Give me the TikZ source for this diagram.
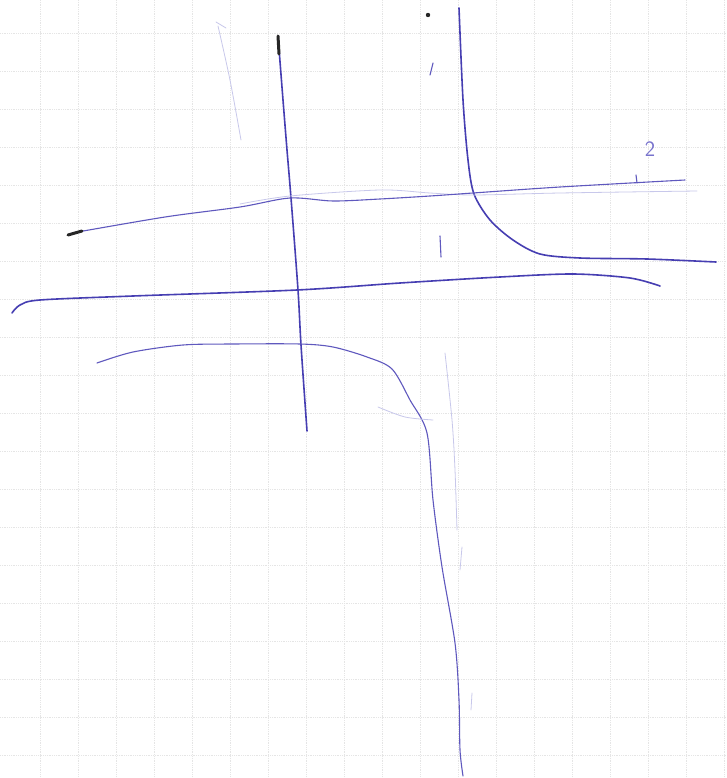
\documentclass[tikz,border=0pt]{standalone}
\usetikzlibrary{positioning}

\begin{document}
\begin{tikzpicture}[x=1pt, y=-1pt,
    gridline/.style={gray!20, densely dotted, line width=0.8pt},
    pen/.style={line width=1.6pt, color={rgb,255:red,70;green,62;blue,178}, line cap=round, line join=round},
    thinpen/.style={line width=1.1pt, color={rgb,255:red,95;green,88;blue,190}, line cap=round},
    ghost/.style={line width=0.8pt, color={rgb,255:red,200;green,200;blue,235}, line cap=round},
    blob/.style={line width=3pt, black!85, line cap=round},
    handlabel/.style={font=\sffamily\fontsize{22}{22}\selectfont, color={rgb,255:red,120;green,115;blue,205}}]
\useasboundingbox (0,0) rectangle (726,778);
\fill[white] (0,0) rectangle (726,778);
% grid paper
\foreach \x in {40,78,...,724} {
    \draw[gridline] (\x,0) -- (\x,778);
}
\foreach \y in {33,71,...,760} {
    \draw[gridline] (0,\y) -- (726,\y);
}
% left vertical stroke
\draw[pen] plot[smooth] coordinates {(278,36) (283,100) (287,150) (291,198) (298,290) (301,345) (307,431)};
\draw[blob] (278,36) -- (279,54);
% right vertical stroke bending to the right
\draw[pen] plot[smooth] coordinates {(459,8) (463,100) (468,160) (474,194) (490,220) (513,240) (540,254) (580,258) (647,259) (716,262)};
% upper thin line (two strokes)
\draw[ghost] plot[smooth] coordinates {(240,204) (290,196) (380,190) (430,193) (473,195) (560,193) (697,191)};
\draw[thinpen] plot[smooth] coordinates {(72,233) (165,217) (240,207) (290,198) (333,201) (380,199) (430,196) (473,193) (560,187) (685,180)};
\draw[blob] (68,235) -- (82,231);
% middle long line
\draw[pen] plot[smooth] coordinates {(12,313) (20,305) (40,300) (133,296) (297,290) (400,283) (500,277) (573,274) (630,278) (660,286)};
% lower curve turning down
\draw[thinpen] plot[smooth] coordinates {(97,363) (133,352) (183,345) (233,344) (300,344) (333,347) (367,357) (392,369) (410,400) (427,433) (433,500) (442,567) (455,643) (459,700) (460,750) (463,776)};
% faint pencil marks
\draw[ghost] plot[smooth] coordinates {(216,22) (226,28)};
\draw[ghost] plot[smooth] coordinates {(218,26) (230,80) (241,140)};
\draw[ghost] plot[smooth] coordinates {(445,353) (452,420) (455,470) (457,530)};
\draw[ghost] (462,547) -- (460,570);
\draw[ghost] (472,693) -- (471,710);
\draw[ghost] plot[smooth] coordinates {(378,407) (405,417) (433,420)};
% small marks
\fill[black!85] (428,15) circle[radius=2.2pt];
\draw[thinpen] (433,63) -- (430,75);
\draw[thinpen] (636,175) -- (637,183);
\draw[thinpen] (440,236) -- (441,257);
% labels
\node[handlabel] (two) at (650,149) {2};
\end{tikzpicture}
\end{document}
